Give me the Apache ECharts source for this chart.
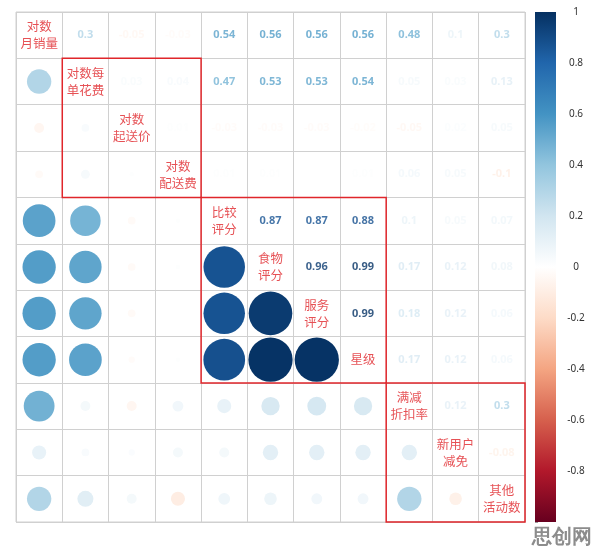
<!DOCTYPE html>
<html><head><meta charset="utf-8">
<script src="https://cdn.jsdelivr.net/npm/echarts@6/dist/echarts.min.js"></script>
<style>html,body{margin:0;padding:0;background:#fff}#c{width:596px;height:550px}</style>
</head><body><div id="c"></div><script>
// Variable names (diagonal labels)
const varNames = ['对数\n月销量','对数每\n单花费','对数\n起送价','对数\n配送费','比较\n评分','食物\n评分','服务\n评分','星级','满减\n折扣率','新用户\n减免','其他\n活动数'];
// Upper-triangle correlations, row i: r(i, i+1..n)
const r1  = [0.3, -0.05, -0.03, 0.54, 0.56, 0.56, 0.56, 0.48, 0.1, 0.3];
const r2  = [0.03, 0.04, 0.47, 0.53, 0.53, 0.54, 0.05, 0.03, 0.13];
const r3  = [0.01, -0.03, -0.03, -0.03, -0.02, -0.05, 0.02, 0.05];
const r4  = [0.01, 0.01, 0.0, 0.01, 0.06, 0.05, -0.1];
const r5  = [0.87, 0.87, 0.88, 0.1, 0.05, 0.07];
const r6  = [0.96, 0.99, 0.17, 0.12, 0.08];
const r7  = [0.99, 0.18, 0.12, 0.06];
const r8  = [0.17, 0.12, 0.06];
const r9  = [0.12, 0.3];
const r10 = [-0.08];
const upper = [r1, r2, r3, r4, r5, r6, r7, r8, r9, r10];
// Highlight groups (start index, end index)
const groups = [[1, 3], [4, 7], [8, 10]];
// Colorbar ticks
const barTicks = [1, 0.8, 0.6, 0.4, 0.2, 0, -0.2, -0.4, -0.6, -0.8];
// RdBu palette from -1 to 1
const palette = ['#67001F','#B2182B','#D6604D','#F4A582','#FDDBC7','#FFFFFF','#D1E5F0','#92C5DE','#4393C3','#2166AC','#053061'];

function hex2rgb(h){ return [parseInt(h.substr(1,2),16), parseInt(h.substr(3,2),16), parseInt(h.substr(5,2),16)]; }
function colorOf(v){
  const t = (Math.max(-1, Math.min(1, v)) + 1) / 2 * (palette.length - 1);
  const k = Math.min(palette.length - 2, Math.floor(t));
  const f = t - k;
  const a = hex2rgb(palette[k]), b = hex2rgb(palette[k+1]);
  const c = a.map((x, i) => Math.round(x + (b[i] - x) * f));
  return 'rgb(' + c.join(',') + ')';
}
const n = varNames.length;
function corr(i, j){ if (i === j) return 1; const a = Math.min(i, j), b = Math.max(i, j); return upper[a][b - a - 1]; }

const circleData = [], textData = [], diagData = [];
for (let i = 0; i < n; i++) {
  for (let j = 0; j < n; j++) {
    const r = corr(i, j);
    if (i > j) circleData.push({ value: [j, i, r], itemStyle: { color: colorOf(r), opacity: 1 } });
    else if (j > i) textData.push({ value: [j, i, r], label: { color: colorOf(r) } });
    else diagData.push({ value: [i, i, varNames[i]] });
  }
}
const idx = varNames.map((_, i) => i);
const cjk = '"Noto Sans CJK SC", "Noto Sans", sans-serif';

const chart = echarts.init(document.getElementById('c'), null, { renderer: 'canvas' });
chart.setOption({
  backgroundColor: '#fff',
  animation: false,
  grid: [
    { left: 16, top: 12, width: 509, height: 510, show: true, borderColor: '#d0d0d0', borderWidth: 1, backgroundColor: 'transparent' },
    { left: 535, top: 12, width: 21, height: 510 }
  ],
  xAxis: [
    { type: 'category', data: idx, gridIndex: 0, axisLabel: { show: false }, axisTick: { show: false }, axisLine: { show: false },
      splitLine: { show: true, lineStyle: { color: '#d0d0d0', width: 1 } } },
    { type: 'value', gridIndex: 1, min: 0, max: 1, show: false }
  ],
  yAxis: [
    { type: 'category', data: idx, gridIndex: 0, inverse: true, axisLabel: { show: false }, axisTick: { show: false }, axisLine: { show: false },
      splitLine: { show: true, lineStyle: { color: '#d0d0d0', width: 1 } } },
    { type: 'value', gridIndex: 1, min: -1, max: 1, interval: 0.2, position: 'right',
      axisLine: { show: false }, splitLine: { show: false },
      axisTick: { show: true, length: 3, lineStyle: { color: '#999' } },
      axisLabel: { margin: 20, align: 'center', color: '#333', fontSize: 10, fontFamily: 'Noto Sans',
        formatter: v => { const r = Math.round(v * 10) / 10; return barTicks.indexOf(r) >= 0 ? String(r) : ''; } } }
  ],
  series: [
    { type: 'scatter', xAxisIndex: 0, yAxisIndex: 0, data: circleData, z: 3, itemStyle: { opacity: 1 },
      symbolSize: v => Math.sqrt(Math.abs(v[2])) * 44.5 },
    { type: 'scatter', xAxisIndex: 0, yAxisIndex: 0, data: textData, symbolSize: 0, z: 3,
      label: { show: true, position: 'inside', fontSize: 11, fontWeight: 'bold', fontFamily: 'Noto Sans',
        formatter: p => String(Math.round(p.value[2] * 100) / 100) } },
    { type: 'scatter', xAxisIndex: 0, yAxisIndex: 0, data: diagData, symbolSize: 0, z: 3,
      label: { show: true, position: 'inside', fontSize: 12.5, lineHeight: 17, color: '#e0262b', fontFamily: cjk,
        formatter: p => p.value[2] } },
    { type: 'custom', xAxisIndex: 0, yAxisIndex: 0, data: groups, z: 5,
      renderItem: (params, api) => {
        const s = api.value(0), e = api.value(1);
        const p0 = api.coord([s, s]);
        const sz = api.size([1, 1]);
        return { type: 'rect', shape: { x: p0[0] - sz[0] / 2, y: p0[1] - sz[1] / 2, width: (e - s + 1) * sz[0], height: (e - s + 1) * sz[1] },
          style: { fill: 'none', stroke: '#e0262b', lineWidth: 1.5 } };
      } },
    { type: 'custom', xAxisIndex: 1, yAxisIndex: 1, data: [[0, 1, -1]],
      renderItem: (params, api) => {
        const a = api.coord([0, api.value(1)]), b = api.coord([1, api.value(2)]);
        const stops = palette.slice().reverse().map((c, i) => ({ offset: i / (palette.length - 1), color: c }));
        return { type: 'rect', shape: { x: a[0], y: a[1], width: b[0] - a[0], height: b[1] - a[1] },
          style: { fill: new echarts.graphic.LinearGradient(0, 0, 0, 1, stops) } };
      } }
  ],
  graphic: [
    { type: 'text', right: 4, bottom: 3, z: 100,
      style: { text: '思创网', fontSize: 20, fontWeight: 'bold', fill: '#8c8c8c', font: 'bold 20px "Noto Sans CJK SC"' } }
  ]
});
</script></body></html>
